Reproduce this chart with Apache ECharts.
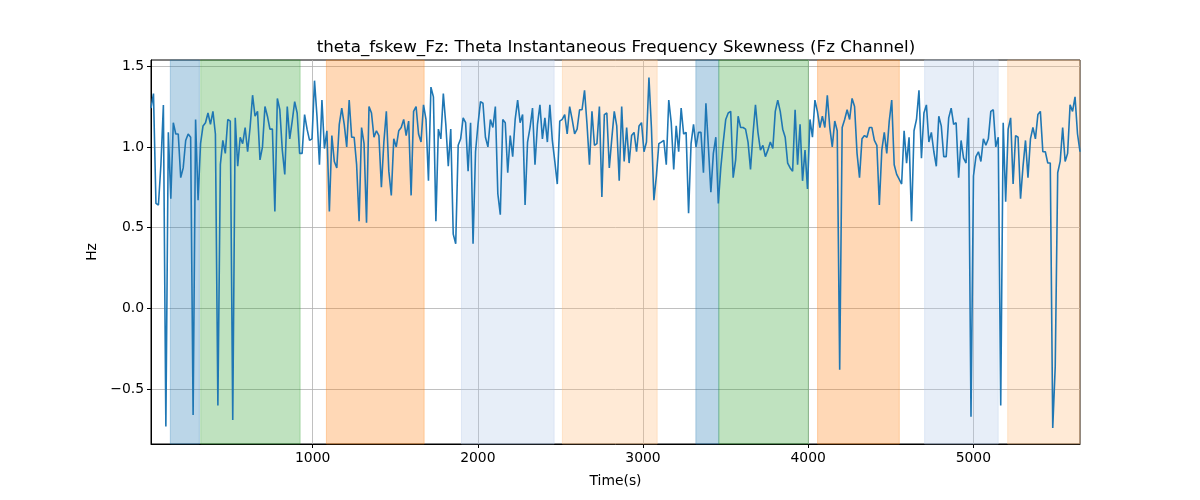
<!DOCTYPE html>
<html><head><meta charset="utf-8">
<script src="https://cdn.jsdelivr.net/npm/echarts@6/dist/echarts.min.js"></script>
<style>html,body{margin:0;padding:0;background:#fff}#c{width:1200px;height:500px}</style>
</head><body><div id="c"></div>
<script>
// Sampling of the time axis (seconds)
const t0 = 21, dt = 15;
// Skewness values (Hz), in time order
const seg1 = [1.24,1.33,0.65,0.64,0.89,1.26,-0.73,1.09,0.68,1.15,1.08,1.08,0.81,0.87,1.04,1.08,1.06,-0.66,1.17,0.67,1.02,1.13,1.15,1.21,1.14,1.22,1.08,-0.60,0.89,1.04,0.96,1.17,1.16,-0.69,1.18,0.88,1.06,1.02,1.12,0.97,1.12,1.32,1.19,1.22,0.92,1.00,1.25,1.19,1.11,1.11,0.60,1.30,1.23,0.98,0.83];
const seg2 = [1.25,1.05,1.16,1.28,1.21,0.96,0.96,1.20,1.11,1.04,1.05,1.41,1.19,0.89,1.29,0.99,1.10,0.60,1.07,0.91,0.87,1.14,1.24,1.14,1.00,1.29,1.06,1.06,0.89,0.54,1.12,1.02,0.53,1.25,1.21,1.06,1.10,1.07,0.75,1.03,1.22,0.85,0.70,1.05,1.00,1.10,1.12,1.17,1.07,1.16,0.70,1.22,1.25];
const seg3 = [1.08,1.03,1.26,1.17,0.79,1.37,1.31,0.54,1.11,1.05,1.33,1.14,0.88,1.11,0.46,0.40,1.01,1.05,1.18,1.15,0.85,1.15,0.40,0.97,1.14,1.28,1.27,1.06,1.00,1.17,1.12,1.25,0.71,0.58,1.17,1.15,0.84,1.07,0.94,1.17,1.29,1.15,1.20,0.64,1.03,1.12,1.24,0.89,1.14,1.26,1.05,1.18,1.03,1.26];
const seg4 = [1.04,0.91,0.77,1.16,1.17,1.20,1.08,1.25,1.17,1.08,1.11,1.23,1.23,1.35,1.14,0.89,1.22,1.01,1.02,1.25,0.69,1.20,1.21,0.87,1.05,1.22,1.13,0.79,1.25,0.91,1.12,0.90,1.07,1.09,0.97,1.13,1.15,0.97,1.03,1.43,1.12,0.67,0.82,1.02,1.03,1.04,0.89,1.29,1.15,0.86,1.13,0.97,1.24,1.08];
const seg5 = [1.09,0.59,1.02,1.14,1.00,1.09,1.09,0.84,1.27,1.00,0.72,0.96,1.06,0.65,0.87,1.03,1.17,1.21,1.22,0.81,0.92,1.19,1.12,1.12,1.11,1.03,0.86,1.08,1.26,1.09,0.98,1.01,0.94,0.98,1.03,0.99,1.22,1.29,1.22,1.11,1.06,0.90,0.87,0.85,1.23,0.89,1.14,0.79,0.98,0.74,1.17,1.06,1.29,1.22,1.12];
const seg6 = [1.19,1.12,1.32,1.12,1.00,1.16,1.10,-0.38,1.12,1.17,1.23,1.17,1.30,1.25,0.96,0.81,1.05,1.07,1.06,1.12,1.12,1.04,1.01,0.64,0.98,1.09,0.96,1.16,1.29,0.89,0.83,0.80,0.77,1.10,0.90,1.06,0.54,1.10,1.17,1.35,0.93,1.21,1.26,1.03,1.09,0.97,0.88,1.19,1.13,0.94,0.94,1.18,1.24,1.14];
const seg7 = [1.15,0.81,1.04,0.93,0.90,1.18,-0.67,0.82,0.94,0.97,0.91,1.05,1.01,1.05,1.22,1.23,1.00,1.06,-0.60,1.15,0.66,1.11,1.18,0.77,1.07,1.06,0.68,0.88,1.04,0.81,1.05,1.12,1.05,1.20,1.22,0.97,0.97,0.90,0.90,-0.74,-0.36,0.84,0.91,1.12,0.91,0.96,1.26,1.22,1.31,1.08,0.97];
const values = [].concat(seg1, seg2, seg3, seg4, seg5, seg6, seg7);

// Shaded phases (time range + kind)
const spanStart = [138, 322, 1083, 1901, 2512, 3320, 3459, 4057, 4705, 5208];
const spanEnd   = [314, 924, 1675, 2462, 3086, 3459, 4001, 4552, 5151, 5646];
const spanKind  = ['blue','green','orange','lightblue','lightorange','blue','green','orange','lightblue','lightorange'];

// Axis ticks
const xTicks = [1000, 2000, 3000, 4000, 5000];
const yTicks = [-0.5, 0.0, 0.5, 1.0, 1.5];
const xMin = 21, xMax = 5646, yMin = -0.839, yMax = 1.538;

const spanColor = {
  blue: 'rgba(31,119,180,0.3)',
  green: 'rgba(44,160,44,0.3)',
  orange: 'rgba(255,127,14,0.3)',
  lightblue: 'rgba(174,199,232,0.3)',
  lightorange: 'rgba(255,187,120,0.3)'
};

const data = values.map((v, i) => [t0 + i * dt, v]);
const areas = spanStart.map((s, i) => [
  { xAxis: s, itemStyle: { color: spanColor[spanKind[i]], borderColor: spanColor[spanKind[i]], borderWidth: 1 } },
  { xAxis: spanEnd[i] }
]);

const FONT = 'DejaVu Sans';
const chart = echarts.init(document.getElementById('c'), null, { renderer: 'canvas' });
chart.setOption({
  animation: false,
  backgroundColor: '#fff',
  textStyle: { fontFamily: FONT },
  title: {
    text: 'theta_fskew_Fz: Theta Instantaneous Frequency Skewness (Fz Channel)',
    left: 611, top: 34, textAlign: 'center',
    textStyle: { fontFamily: FONT, fontSize: 16.7, fontWeight: 'normal', color: '#000' }
  },
  grid: { left: 151, top: 60, width: 929, height: 384, show: true, borderColor: '#000', borderWidth: 1, containLabel: false },
  xAxis: {
    type: 'value', min: xMin, max: xMax,
    name: 'Time(s)', nameLocation: 'middle', nameGap: 30,
    nameTextStyle: { fontFamily: FONT, fontSize: 13.9, color: '#000' },
    axisLine: { show: true, onZero: false, lineStyle: { color: '#000', width: 1 } },
    axisTick: { show: true, inside: false, length: 4, customValues: xTicks, lineStyle: { color: '#000', width: 1 } },
    axisLabel: { show: true, margin: 7, customValues: xTicks, fontFamily: FONT, fontSize: 13.9, color: '#000',
      formatter: v => String(Math.round(v)) },
    splitLine: { show: true, lineStyle: { color: '#b0b0b0', width: 0.8 } }
  },
  yAxis: {
    type: 'value', min: yMin, max: yMax,
    name: 'Hz', nameLocation: 'middle', nameGap: 48,
    nameTextStyle: { fontFamily: FONT, fontSize: 13.9, color: '#000' },
    axisLine: { show: true, onZero: false, lineStyle: { color: '#000', width: 1 } },
    axisTick: { show: true, inside: false, length: 4, customValues: yTicks, lineStyle: { color: '#000', width: 1 } },
    axisLabel: { show: true, margin: 7, customValues: yTicks, fontFamily: FONT, fontSize: 13.9, color: '#000',
      formatter: v => (v < 0 ? '\u2212' : '') + Math.abs(v).toFixed(1) },
    splitLine: { show: true, lineStyle: { color: '#b0b0b0', width: 0.8 } }
  },
  series: [{
    type: 'line', data: data, showSymbol: false, symbol: 'none',
    lineStyle: { color: '#1f77b4', width: 1.6 },
    itemStyle: { color: '#1f77b4' },
    markArea: { silent: true, data: areas },
    z: 3
  }]
});
</script>
</body></html>
